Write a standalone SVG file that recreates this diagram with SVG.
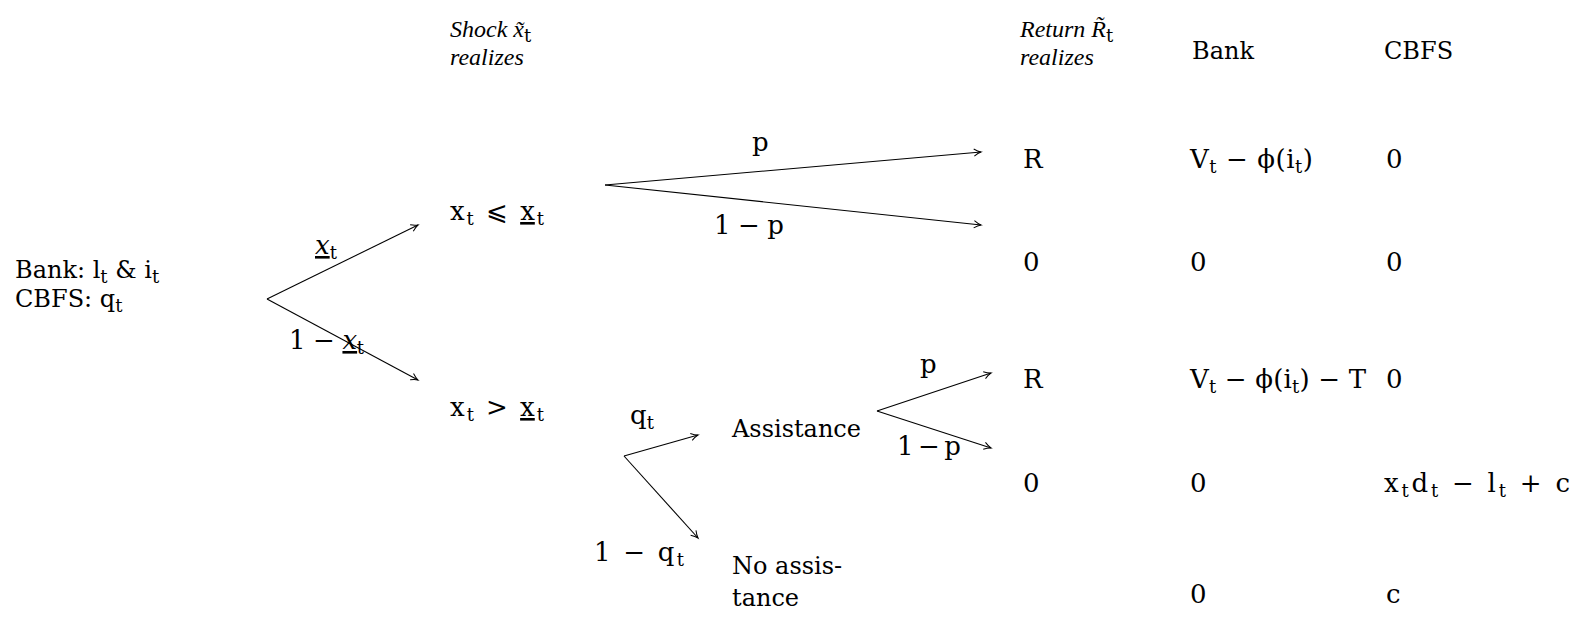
<svg xmlns="http://www.w3.org/2000/svg" width="1578" height="619" viewBox="0 0 1578 619">
<style>
text{font-family:"DejaVu Serif","Liberation Serif",serif;font-size:24px;fill:#000}
.m{font-size:26px}
.h{font-family:"Liberation Serif","DejaVu Serif",serif;font-style:italic;font-size:24px}
.s{font-size:18px;font-style:normal}
.u{text-decoration:underline}
.c line{stroke:#000;stroke-width:1.1;fill:none}
</style>
<defs>
<marker id="ar" markerUnits="userSpaceOnUse" markerWidth="14" markerHeight="12" viewBox="-9 -6 10 12" refX="0" refY="0" orient="auto">
<path d="M-7,-3.6 Q-3,-0.8 0,0 Q-3,0.8 -7,3.6" stroke="#000" stroke-width="1" fill="none"/>
</marker>
</defs>
<rect width="1578" height="619" fill="#fff"/>

<g id="headers">
<text class="h" x="450" y="37">Shock x̃<tspan class="s" font-family="DejaVu Serif" dy="5">t</tspan></text>
<text class="h" x="450" y="65">realizes</text>
<text class="h" x="1020" y="37">Return R̃<tspan class="s" font-family="DejaVu Serif" dy="5">t</tspan></text>
<text class="h" x="1020" y="65">realizes</text>
<text x="1192" y="59">Bank</text>
<text x="1384" y="59">CBFS</text>
</g>

<g id="root">
<text x="15" y="278">Bank: l<tspan class="s" dy="5">t</tspan><tspan dy="-5"> &amp; i</tspan><tspan class="s" dy="5">t</tspan></text>
<text x="15" y="307">CBFS: q<tspan class="s" dy="5">t</tspan></text>
</g>

<g id="node-low">
<text class="m" x="450" y="220" textLength="94" lengthAdjust="spacing">x<tspan class="s" dy="5">t</tspan><tspan dy="-5"> ⩽ </tspan><tspan class="u">x</tspan><tspan class="s" dy="5">t</tspan></text>
</g>
<g id="node-high">
<text class="m" x="450" y="416" textLength="94" lengthAdjust="spacing">x<tspan class="s" dy="5">t</tspan><tspan dy="-5"> &gt; </tspan><tspan class="u">x</tspan><tspan class="s" dy="5">t</tspan></text>
</g>
<g id="node-assist">
<text x="732" y="437">Assistance</text>
</g>
<g id="node-noassist">
<text x="732" y="574">No assis-</text>
<text x="732" y="606">tance</text>
</g>

<g id="outcomes">
<text class="m" x="1023" y="168">R</text>
<text class="m" x="1190" y="168" textLength="123" lengthAdjust="spacing">V<tspan class="s" dy="5">t</tspan><tspan dy="-5"> − ϕ(i</tspan><tspan class="s" dy="5">t</tspan><tspan dy="-5">)</tspan></text>
<text class="m" x="1386" y="168">0</text>

<text class="m" x="1023" y="271">0</text>
<text class="m" x="1190" y="271">0</text>
<text class="m" x="1386" y="271">0</text>

<text class="m" x="1023" y="388">R</text>
<text class="m" x="1190" y="388" textLength="176" lengthAdjust="spacing">V<tspan class="s" dy="5">t</tspan><tspan dy="-5"> − ϕ(i</tspan><tspan class="s" dy="5">t</tspan><tspan dy="-5">) − T</tspan></text>
<text class="m" x="1386" y="388">0</text>

<text class="m" x="1023" y="492">0</text>
<text class="m" x="1190" y="492">0</text>
<text class="m" x="1384" y="492" textLength="186" lengthAdjust="spacing">x<tspan class="s" dy="5">t</tspan><tspan dy="-5">d</tspan><tspan class="s" dy="5">t</tspan><tspan dy="-5"> − l</tspan><tspan class="s" dy="5">t</tspan><tspan dy="-5"> + c</tspan></text>

<text class="m" x="1190" y="603">0</text>
<text class="m" x="1386" y="603">c</text>
</g>

<g id="connectors" class="c">
<line x1="267" y1="299" x2="418" y2="225" marker-end="url(#ar)"/>
<line x1="267" y1="299" x2="418" y2="380" marker-end="url(#ar)"/>
<line x1="605" y1="185" x2="981" y2="152" marker-end="url(#ar)"/>
<line x1="605" y1="185" x2="981" y2="225" marker-end="url(#ar)"/>
<line x1="624" y1="456" x2="698" y2="435" marker-end="url(#ar)"/>
<line x1="624" y1="456" x2="698" y2="538" marker-end="url(#ar)"/>
<line x1="877" y1="411" x2="991" y2="373" marker-end="url(#ar)"/>
<line x1="877" y1="411" x2="991" y2="448" marker-end="url(#ar)"/>
</g>

<g id="edge-labels">
<text class="m" x="315" y="254"><tspan class="u" font-style="italic">x</tspan><tspan class="s" dy="5">t</tspan></text>
<text class="m" x="289" y="349" textLength="75" lengthAdjust="spacing">1 − <tspan class="u" font-style="italic">x</tspan><tspan class="s" dy="5">t</tspan></text>
<text class="m" x="752" y="151">p</text>
<text class="m" x="714" y="234" textLength="70" lengthAdjust="spacing">1 − p</text>
<text class="m" x="630" y="424">q<tspan class="s" dy="5">t</tspan></text>
<text class="m" x="594" y="561" textLength="90" lengthAdjust="spacing">1 − q<tspan class="s" dy="5">t</tspan></text>
<text class="m" x="920" y="373">p</text>
<text class="m" x="897" y="455" textLength="64" lengthAdjust="spacing">1 − p</text>
</g>
</svg>
